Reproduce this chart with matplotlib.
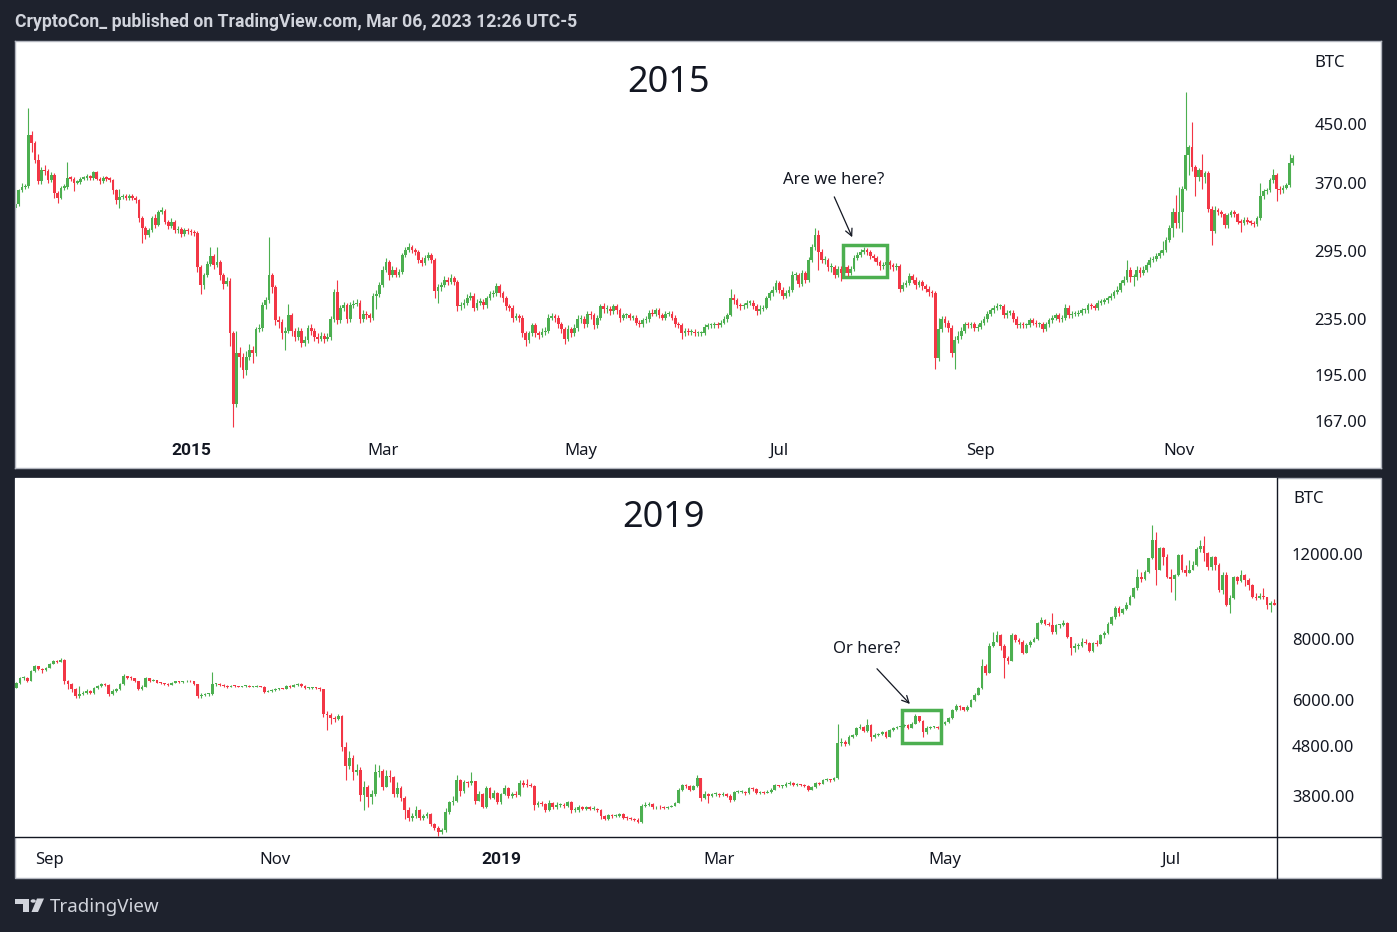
import numpy as np
import pandas as pd
import matplotlib
matplotlib.use("Agg")
import matplotlib.pyplot as plt
import matplotlib.dates as mdates
from matplotlib.patches import Rectangle, Polygon, Circle
from matplotlib.lines import Line2D
from matplotlib.ticker import NullLocator

W, H = 1397, 932
BG = "#1e222d"
UP = "#4caf50"
DOWN = "#f23645"
INK = "#131722"
HEAD = "#d1d4dc"
BOLD_FONT = ["Roboto", "Lato", "DejaVu Sans"]

plt.rcParams['font.family'] = ['Noto Sans', 'DejaVu Sans']

# ---- 2015 daily candles (BTC/USD), first candle 2014-11-08 ----
start_2015 = "2014-11-08"
first_open_2015 = 340
close_2015 = [
    345, 361, 365, 366, 434, 422, 399, 372, 386, 385,
    373, 380, 358, 352, 364, 365, 376, 375, 370, 371,
    375, 376, 378, 376, 383, 375, 372, 376, 375, 374,
    361, 349, 353, 354, 352, 353, 352, 349, 329, 318,
    311, 316, 329, 321, 336, 337, 325, 320, 325, 316,
    317, 312, 316, 315, 314, 313, 279, 263, 272, 282,
    290, 281, 284, 272, 264, 267, 224, 177, 210, 207,
    198, 207, 212, 210, 227, 228, 246, 250, 272, 261,
    234, 233, 224, 226, 238, 226, 221, 226, 217, 219,
    228, 226, 221, 220, 222, 220, 221, 235, 257, 234,
    244, 246, 235, 246, 247, 248, 235, 239, 238, 236,
    254, 255, 263, 277, 284, 272, 277, 272, 275, 291,
    296, 299, 296, 294, 286, 283, 288, 291, 286, 258,
    261, 263, 268, 266, 269, 266, 245, 246, 248, 252,
    254, 244, 248, 249, 246, 252, 255, 256, 262, 256,
    252, 245, 244, 236, 237, 236, 224, 219, 224, 230,
    224, 223, 225, 226, 236, 237, 236, 231, 227, 220,
    227, 224, 228, 235, 235, 231, 239, 238, 230, 236,
    245, 243, 243, 241, 245, 242, 236, 238, 238, 236,
    236, 232, 231, 234, 235, 240, 239, 242, 238, 236,
    239, 239, 236, 231, 230, 224, 226, 225, 225, 224,
    224, 224, 229, 230, 230, 231, 230, 232, 235, 238,
    252, 250, 246, 245, 246, 248, 248, 245, 241, 243,
    244, 252, 256, 259, 265, 259, 254, 256, 259, 272,
    272, 264, 274, 268, 286, 299, 311, 294, 286, 286,
    279, 279, 272, 278, 274, 279, 274, 278, 288, 291,
    294, 296, 294, 290, 288, 284, 280, 281, 284, 281,
    279, 280, 260, 263, 265, 271, 268, 263, 266, 262,
    260, 257, 256, 206, 227, 235, 232, 228, 210, 219,
    222, 226, 231, 230, 231, 228, 229, 232, 235, 239,
    242, 244, 245, 245, 238, 240, 240, 235, 230, 231,
    230, 230, 234, 232, 231, 231, 227, 231, 234, 236,
    238, 235, 236, 244, 238, 239, 239, 240, 242, 242,
    246, 245, 244, 248, 249, 250, 252, 254, 257, 259,
    265, 268, 277, 270, 270, 277, 274, 277, 281, 286,
    287, 290, 293, 296, 306, 318, 336, 324, 336, 363,
    406, 417, 390, 377, 386, 377, 382, 339, 315, 338,
    336, 333, 321, 332, 336, 333, 325, 324, 327, 325,
    324, 322, 329, 354, 360, 361, 373, 380, 363, 361,
    364, 367, 395, 402,
]
high_2015 = [
    348, 363, 370, 368, 475, 440, 425, 407, 390, 392,
    388, 383, 382, 360, 366, 368, 397, 379, 377, 374,
    377, 379, 381, 380, 385, 385, 377, 378, 378, 377,
    375, 363, 362, 357, 357, 356, 356, 354, 351, 331,
    320, 318, 331, 333, 338, 341, 339, 327, 329, 327,
    320, 319, 318, 318, 317, 316, 315, 281, 274, 285,
    299, 292, 299, 286, 274, 270, 269, 226, 226, 214,
    210, 211, 216, 215, 229, 231, 249, 253, 309, 274,
    263, 237, 235, 229, 247, 240, 228, 229, 228, 222,
    230, 231, 228, 224, 225, 224, 224, 237, 260, 268,
    246, 249, 248, 249, 250, 251, 250, 242, 241, 240,
    256, 259, 266, 280, 288, 286, 280, 279, 278, 293,
    299, 303, 301, 298, 296, 289, 291, 294, 293, 288,
    264, 266, 271, 270, 273, 271, 268, 249, 251, 255,
    257, 256, 251, 252, 251, 254, 258, 259, 265, 264,
    258, 254, 247, 246, 240, 239, 238, 226, 226, 232,
    232, 226, 228, 229, 239, 240, 239, 238, 233, 229,
    230, 229, 231, 238, 238, 237, 241, 241, 240, 238,
    247, 248, 246, 245, 247, 247, 244, 240, 240, 240,
    238, 238, 234, 236, 237, 242, 243, 244, 244, 240,
    241, 241, 241, 238, 233, 232, 228, 228, 227, 227,
    226, 226, 231, 232, 232, 233, 233, 234, 237, 240,
    260, 255, 252, 248, 248, 250, 250, 250, 247, 246,
    246, 254, 258, 262, 268, 267, 261, 259, 262, 276,
    275, 274, 277, 276, 289, 302, 318, 316, 297, 290,
    288, 283, 281, 280, 280, 281, 281, 280, 291, 294,
    297, 299, 298, 296, 292, 290, 286, 284, 286, 286,
    283, 283, 282, 266, 268, 274, 273, 270, 268, 268,
    264, 262, 259, 258, 236, 237, 237, 234, 230, 222,
    226, 229, 233, 233, 233, 233, 231, 234, 237, 241,
    244, 246, 248, 247, 247, 242, 242, 242, 237, 233,
    233, 232, 236, 236, 234, 233, 233, 233, 236, 238,
    240, 240, 238, 247, 246, 241, 241, 242, 244, 244,
    248, 248, 247, 250, 251, 252, 254, 256, 259, 262,
    268, 271, 286, 279, 273, 280, 279, 280, 284, 289,
    290, 293, 296, 305, 309, 321, 340, 355, 365, 366,
    500, 420, 453, 393, 389, 407, 385, 385, 342, 342,
    340, 338, 335, 334, 338, 338, 335, 328, 330, 330,
    327, 326, 331, 370, 363, 364, 376, 388, 382, 366,
    367, 370, 407, 406,
]
low_2015 = [
    338, 343, 359, 362, 364, 410, 395, 368, 369, 380,
    370, 371, 352, 346, 350, 361, 363, 372, 360, 368,
    369, 373, 374, 373, 374, 373, 368, 370, 372, 371,
    357, 345, 340, 350, 349, 349, 349, 346, 325, 303,
    307, 309, 314, 318, 320, 333, 322, 317, 318, 313,
    313, 309, 310, 312, 311, 310, 275, 255, 260, 270,
    280, 278, 279, 268, 260, 262, 215, 164, 175, 200,
    193, 195, 205, 203, 208, 225, 226, 243, 248, 256,
    230, 228, 220, 212, 224, 222, 218, 219, 214, 215,
    217, 223, 218, 217, 218, 217, 218, 219, 233, 231,
    232, 241, 232, 233, 244, 245, 232, 233, 235, 233,
    234, 243, 253, 261, 275, 268, 270, 270, 270, 273,
    289, 294, 293, 291, 283, 280, 281, 286, 283, 252,
    248, 258, 261, 263, 264, 263, 241, 242, 244, 246,
    250, 241, 242, 246, 243, 244, 250, 253, 254, 253,
    249, 242, 241, 233, 234, 233, 221, 215, 217, 222,
    221, 220, 221, 223, 224, 234, 233, 228, 224, 216,
    218, 221, 222, 226, 232, 228, 229, 235, 227, 228,
    234, 240, 240, 238, 239, 239, 233, 234, 236, 234,
    234, 230, 229, 229, 232, 233, 237, 237, 236, 234,
    234, 237, 234, 229, 228, 220, 222, 223, 223, 222,
    222, 222, 223, 227, 228, 228, 228, 229, 231, 233,
    237, 247, 244, 242, 243, 244, 246, 243, 238, 239,
    241, 243, 250, 254, 257, 256, 251, 252, 254, 257,
    268, 261, 262, 265, 266, 284, 296, 277, 283, 282,
    276, 275, 269, 270, 267, 272, 271, 272, 276, 286,
    289, 292, 291, 287, 285, 281, 277, 278, 279, 278,
    276, 277, 257, 258, 261, 263, 265, 260, 261, 259,
    257, 254, 253, 199, 204, 225, 229, 225, 207, 199,
    217, 220, 224, 228, 228, 226, 226, 227, 230, 233,
    237, 240, 242, 243, 236, 236, 238, 233, 228, 228,
    228, 228, 229, 230, 229, 229, 225, 226, 229, 232,
    234, 233, 233, 234, 236, 236, 237, 237, 238, 240,
    240, 243, 242, 242, 246, 247, 248, 250, 252, 255,
    257, 263, 266, 266, 262, 268, 270, 272, 275, 279,
    284, 285, 288, 291, 294, 304, 309, 318, 318, 314,
    361, 380, 385, 354, 372, 363, 370, 336, 301, 313,
    332, 330, 318, 318, 330, 330, 322, 314, 321, 322,
    321, 319, 320, 327, 351, 357, 359, 370, 348, 357,
    358, 362, 365, 393,
]

# ---- 2019 daily candles (BTC/USD), first candle 2018-08-23 ----
start_2019 = "2018-08-23"
first_open_2019 = 6350
close_2019 = [
    6490, 6640, 6650, 6560, 6870, 7030, 6950, 6900, 6980, 7120,
    7200, 7180, 7260, 6560, 6450, 6300, 6090, 6150, 6180, 6240,
    6190, 6350, 6390, 6450, 6430, 6150, 6260, 6300, 6450, 6700,
    6660, 6640, 6550, 6300, 6380, 6640, 6560, 6580, 6500, 6480,
    6450, 6440, 6500, 6540, 6520, 6540, 6560, 6540, 6450, 6090,
    6130, 6150, 6150, 6450, 6460, 6440, 6390, 6380, 6400, 6390,
    6380, 6390, 6400, 6380, 6380, 6390, 6380, 6230, 6240, 6270,
    6300, 6330, 6320, 6400, 6380, 6420, 6470, 6400, 6330, 6350,
    6350, 6340, 6300, 5610, 5580, 5500, 5480, 5560, 4790, 4370,
    4540, 4260, 4290, 3810, 3960, 3780, 3820, 4260, 4280, 3960,
    4170, 4150, 3820, 3930, 3760, 3540, 3420, 3440, 3540, 3420,
    3450, 3480, 3320, 3260, 3190, 3220, 3520, 3680, 3700, 4090,
    3880, 4050, 4030, 4070, 3710, 3830, 3600, 3930, 3760, 3850,
    3680, 3830, 3940, 3800, 3830, 3810, 4030, 4000, 3990, 3980,
    3640, 3660, 3650, 3540, 3670, 3590, 3630, 3640, 3610, 3680,
    3540, 3550, 3590, 3570, 3600, 3570, 3570, 3540, 3440, 3400,
    3460, 3450, 3450, 3480, 3420, 3410, 3400, 3390, 3350, 3620,
    3640, 3650, 3590, 3600, 3590, 3580, 3600, 3620, 3670, 3900,
    3990, 3980, 3910, 3970, 4130, 3750, 3830, 3800, 3820, 3820,
    3810, 3830, 3800, 3720, 3860, 3870, 3870, 3840, 3930, 3920,
    3850, 3860, 3850, 3870, 3910, 3990, 3970, 3970, 4020, 4040,
    3990, 4000, 3990, 3980, 3910, 3950, 4040, 4020, 4100, 4100,
    4090, 4130, 4870, 4900, 4850, 5030, 5060, 5240, 5270, 5160,
    5320, 5030, 5070, 5090, 5140, 5030, 5190, 5240, 5270, 5290,
    5320, 5240, 5350, 5540, 5420, 5150, 5240, 5270, 5270, 5250,
    5350, 5380, 5490, 5710, 5820, 5780, 5710, 5800, 5980, 6140,
    6330, 7040, 6820, 7740, 7900, 8170, 7740, 7300, 7210, 8150,
    7980, 7900, 7500, 7790, 7900, 8010, 8650, 8780, 8600, 8550,
    8280, 8550, 8550, 8650, 8080, 7660, 7750, 7760, 7900, 7850,
    7560, 7860, 7830, 8150, 8230, 8600, 8900, 9300, 9050, 9240,
    9410, 9770, 10200, 10770, 10650, 11000, 11780, 12840, 11130, 12350,
    11830, 10770, 10630, 10840, 11950, 11130, 10980, 11130, 11400, 12300,
    12470, 12060, 11280, 11830, 11400, 10110, 10860, 9410, 9720, 10770,
    10570, 10860, 10610, 10360, 9780, 9740, 9820, 9780, 9410, 9500,
    9420,
]
high_2019 = [
    6530, 6680, 6720, 6680, 6900, 7080, 7050, 6980, 7010, 7150,
    7250, 7240, 7300, 7280, 6600, 6480, 6350, 6400, 6250, 6300,
    6280, 6380, 6420, 6490, 6480, 6450, 6300, 6350, 6480, 6780,
    6720, 6700, 6660, 6570, 6420, 6680, 6650, 6620, 6600, 6530,
    6500, 6480, 6530, 6570, 6560, 6570, 6600, 6580, 6560, 6460,
    6180, 6190, 6190, 6850, 6500, 6480, 6460, 6420, 6420, 6420,
    6410, 6410, 6430, 6420, 6400, 6420, 6410, 6400, 6270, 6300,
    6330, 6350, 6350, 6440, 6420, 6450, 6500, 6480, 6420, 6380,
    6370, 6380, 6360, 6320, 5680, 5620, 5540, 5600, 5580, 4900,
    4700, 4600, 4420, 4350, 4080, 4000, 3900, 4410, 4400, 4310,
    4300, 4300, 4180, 4050, 3980, 3800, 3600, 3500, 3620, 3570,
    3480, 3520, 3490, 3340, 3290, 3260, 3580, 3700, 3800, 4190,
    4120, 4100, 4080, 4250, 4080, 3890, 3840, 3970, 3950, 3900,
    3870, 3850, 3990, 3960, 3870, 3880, 4090, 4100, 4110, 4030,
    4000, 3700, 3700, 3670, 3720, 3690, 3680, 3670, 3660, 3710,
    3700, 3590, 3640, 3620, 3620, 3620, 3610, 3580, 3560, 3460,
    3480, 3480, 3480, 3500, 3490, 3440, 3430, 3420, 3410, 3650,
    3680, 3680, 3660, 3620, 3630, 3610, 3620, 3640, 3690, 3930,
    4010, 4010, 3990, 4000, 4190, 4140, 3880, 3850, 3850, 3860,
    3850, 3860, 3850, 3820, 3890, 3910, 3910, 3890, 3960, 3950,
    3930, 3890, 3890, 3900, 3930, 4010, 4000, 4000, 4050, 4070,
    4060, 4030, 4020, 4010, 3990, 3970, 4060, 4060, 4120, 4130,
    4120, 4160, 5330, 5000, 4950, 5060, 5100, 5270, 5330, 5300,
    5470, 5330, 5110, 5120, 5170, 5160, 5220, 5270, 5300, 5320,
    5350, 5340, 5380, 5600, 5560, 5440, 5280, 5300, 5300, 5300,
    5380, 5420, 5530, 5750, 5880, 5860, 5800, 5840, 6020, 6180,
    6380, 7290, 7100, 7850, 8280, 8300, 8200, 7800, 7400, 8250,
    8200, 8050, 7950, 7850, 7980, 8100, 8700, 8900, 8820, 8700,
    9080, 8600, 8600, 8750, 8700, 8100, 7850, 7850, 8050, 8000,
    7900, 7900, 7950, 8200, 8300, 8700, 8950, 9350, 9350, 9300,
    9550, 9850, 10250, 11200, 11000, 11100, 11800, 13780, 13300, 12400,
    12400, 12000, 11200, 10900, 12000, 12000, 11400, 11650, 11600, 12400,
    12800, 13100, 12100, 11900, 11900, 11500, 11000, 11000, 9850, 10800,
    10830, 11100, 10900, 10700, 10380, 9950, 9950, 10200, 9800, 9600,
    9700,
]
low_2019 = [
    6330, 6470, 6600, 6520, 6550, 6850, 6900, 6820, 6880, 6960,
    7100, 7130, 7160, 6450, 6300, 6230, 6050, 6060, 6120, 6150,
    6160, 6170, 6320, 6360, 6400, 6110, 6120, 6230, 6280, 6430,
    6620, 6600, 6520, 6270, 6280, 6360, 6520, 6540, 6480, 6450,
    6420, 6410, 6420, 6480, 6500, 6500, 6520, 6510, 6420, 6050,
    6060, 6100, 6110, 6130, 6400, 6410, 6360, 6350, 6360, 6370,
    6360, 6360, 6370, 6360, 6360, 6370, 6360, 6200, 6210, 6220,
    6250, 6280, 6300, 6300, 6350, 6360, 6400, 6380, 6300, 6310,
    6320, 6310, 6260, 5530, 5200, 5350, 5400, 5450, 4700, 4090,
    4320, 4100, 4200, 3700, 3540, 3600, 3650, 3800, 4150, 3900,
    3950, 4050, 3780, 3780, 3700, 3400, 3370, 3360, 3420, 3380,
    3380, 3420, 3280, 3220, 3130, 3170, 3200, 3480, 3640, 3680,
    3800, 3850, 3950, 4000, 3650, 3700, 3580, 3580, 3730, 3740,
    3650, 3650, 3810, 3760, 3750, 3780, 3800, 3960, 3960, 3950,
    3550, 3590, 3620, 3520, 3530, 3560, 3570, 3600, 3580, 3600,
    3490, 3510, 3520, 3540, 3550, 3550, 3540, 3510, 3400, 3380,
    3390, 3420, 3430, 3430, 3400, 3390, 3380, 3360, 3340, 3340,
    3600, 3610, 3570, 3570, 3570, 3560, 3570, 3590, 3610, 3660,
    3880, 3940, 3890, 3900, 3960, 3700, 3730, 3670, 3780, 3790,
    3780, 3790, 3770, 3690, 3710, 3840, 3840, 3810, 3830, 3880,
    3820, 3830, 3820, 3840, 3850, 3900, 3950, 3940, 3950, 4000,
    3970, 3970, 3970, 3960, 3880, 3900, 3940, 3990, 4010, 4070,
    4060, 4080, 4120, 4800, 4800, 4830, 5000, 5040, 5210, 5140,
    5150, 4920, 5000, 5050, 5060, 5000, 5020, 5170, 5220, 5250,
    5270, 5220, 5230, 5330, 5380, 5030, 5100, 5220, 5240, 5220,
    5230, 5320, 5360, 5470, 5690, 5720, 5680, 5690, 5780, 5960,
    6120, 6310, 6730, 6800, 7700, 7880, 7600, 6640, 7100, 7200,
    7880, 7800, 7450, 7480, 7700, 7880, 7980, 8600, 8550, 8500,
    8200, 8200, 8450, 8520, 8050, 7420, 7520, 7650, 7720, 7800,
    7520, 7530, 7750, 7800, 8050, 8200, 8550, 8800, 8950, 9000,
    9200, 9400, 9750, 10100, 10500, 10600, 10950, 11700, 10360, 11100,
    11400, 10700, 10000, 9640, 10800, 11000, 10800, 10950, 11100, 11350,
    12100, 11600, 11100, 11100, 11100, 10000, 9900, 9350, 9060, 9700,
    10400, 10500, 10300, 10100, 9750, 9650, 9700, 9700, 9250, 9100,
    9400,
]

# axis labels
price_ticks_2015 = [450, 370, 295, 235, 195, 167]
price_ticks_2019 = [12000, 8000, 6000, 4800, 3800]
month_dates_2015 = ["2015-01-01", "2015-03-01", "2015-05-01", "2015-07-01", "2015-09-01", "2015-11-01"]
month_labels_2015 = ["2015", "Mar", "May", "Jul", "Sep", "Nov"]
month_dates_2019 = ["2018-09-01", "2018-11-01", "2019-01-01", "2019-03-01", "2019-05-01", "2019-07-01"]
month_labels_2019 = ["Sep", "Nov", "2019", "Mar", "May", "Jul"]

# highlighted zones: (start, end, low, high)
zone_2015 = ("2015-07-20 16:00", "2015-08-03 00:00", 270.5, 301)
zone_2019 = ("2019-04-19 07:00", "2019-04-29 22:00", 4870, 5700)


def fx(x):
    return x / W


def fy(y):
    return 1 - y / H


def dnum(s):
    return mdates.date2num(pd.Timestamp(s))


def draw_candles(ax, dates, first_open, close, high, low, width):
    close = np.asarray(close, float)
    opens = np.concatenate([[first_open], close[:-1]])
    high = np.maximum(np.asarray(high, float), np.maximum(opens, close))
    low = np.minimum(np.asarray(low, float), np.minimum(opens, close))
    colors = np.where(close >= opens, UP, DOWN)
    top = np.maximum(opens, close)
    bot = np.minimum(opens, close)
    top = np.maximum(top, bot * 1.0045)
    ax.vlines(dates, low, high, colors=colors, linewidth=0.8)
    ax.bar(dates, top - bot, bottom=bot, width=width, color=colors, linewidth=0)


def clean(ax):
    for axis in (ax.xaxis, ax.yaxis):
        axis.set_major_locator(NullLocator())
        axis.set_minor_locator(NullLocator())


def time_label(ax, d, lab, ypos):
    bold = lab.isdigit()
    ax.text(dnum(d), ypos, lab, transform=ax.get_xaxis_transform(), ha="center",
            va="center_baseline", fontsize=12.5 if bold else 12, color=INK,
            family=BOLD_FONT if bold else None, fontweight="bold" if bold else "normal",
            clip_on=False)


fig = plt.figure(figsize=(W / 100, H / 100), dpi=100, facecolor=BG)

fig.text(fx(15), fy(27), "CryptoCon_ published on TradingView.com, Mar 06, 2023 12:26 UTC-5",
         color=HEAD, fontsize=12.7, family=BOLD_FONT, fontweight="bold", ha="left", va="baseline")

# ---------- top panel (2015) ----------
ax1 = fig.add_axes([fx(15), fy(468), (1381 - 15) / W, (468 - 41) / H])
ax1.set_facecolor("white")
ax1.set_yscale("log")
d1 = mdates.date2num(pd.date_range(start_2015, periods=len(close_2015), freq="D"))
ax1.set_xlim(d1[0] - 0.15, d1[0] + 420.15)
ax1.set_ylim(143.0, 593.5)
clean(ax1)
for sp in ax1.spines.values():
    sp.set_color("#b2b5be")
    sp.set_linewidth(1)
draw_candles(ax1, d1, first_open_2015, close_2015, high_2015, low_2015, 0.8)

for p in price_ticks_2015:
    ax1.text(0.9897, p, f"{p:.2f}", transform=ax1.get_yaxis_transform(),
             ha="right", va="center_baseline", fontsize=12, color=INK)
ax1.text(0.951, 0.953, "BTC", transform=ax1.transAxes, ha="left", va="center_baseline", fontsize=12, color=INK)
for d, lab in zip(month_dates_2015, month_labels_2015):
    time_label(ax1, d, lab, 0.0445)
ax1.text(0.4784, 0.8806, "2015", transform=ax1.transAxes, ha="center", va="baseline", fontsize=26, color=INK)

z0, z1, zl, zh = zone_2015
ax1.add_patch(Rectangle((dnum(z0), zl), dnum(z1) - dnum(z0), zh - zl, fill=False,
                        edgecolor=UP, linewidth=2.5))
ax1.annotate("", xy=(dnum("2015-07-23 19:00"), 306), xytext=(dnum("2015-07-17 14:00"), 356),
             arrowprops=dict(arrowstyle="->,head_length=0.5,head_width=0.25", color=INK, lw=0.9))
ax1.text(dnum("2015-07-17 14:00"), 376, "Are we here?", ha="center", va="center_baseline",
         fontsize=12, color=INK)

# ---------- bottom panel (2019) ----------
fig.patches.append(Rectangle((fx(15), fy(878)), (1381 - 15) / W, (878 - 478) / H,
                             transform=fig.transFigure, facecolor="white",
                             edgecolor="#b2b5be", linewidth=1, zorder=-1))
ax2 = fig.add_axes([fx(15), fy(837), (1277 - 15) / W, (837 - 478) / H])
ax2.set_facecolor("white")
ax2.set_yscale("log")
d2 = mdates.date2num(pd.date_range(start_2019, periods=len(close_2019), freq="D"))
ax2.set_xlim(d2[0] - 0.35, d2[0] + 340.7)
ax2.set_ylim(3119, 17233)
clean(ax2)
for sp in ax2.spines.values():
    sp.set_visible(False)
draw_candles(ax2, d2, first_open_2019, close_2019, high_2019, low_2019, 0.74)

fig.add_artist(Line2D([fx(15), fx(1381)], [fy(837), fy(837)], color=INK, linewidth=1))
fig.add_artist(Line2D([fx(1277), fx(1277)], [fy(478), fy(878)], color=INK, linewidth=1))

for p in price_ticks_2019:
    ax2.text(1.0119, p, f"{p:.2f}", transform=ax2.get_yaxis_transform(),
             ha="left", va="center_baseline", fontsize=12, color=INK, clip_on=False)
ax2.text(1.0127, 0.947, "BTC", transform=ax2.transAxes, ha="left", va="center_baseline",
         fontsize=12, color=INK)
for d, lab in zip(month_dates_2019, month_labels_2019):
    time_label(ax2, d, lab, -0.0585)
ax2.text(0.5135, 0.8635, "2019", transform=ax2.transAxes, ha="center", va="baseline", fontsize=26, color=INK)

z0, z1, zl, zh = zone_2019
ax2.add_patch(Rectangle((dnum(z0), zl), dnum(z1) - dnum(z0), zh - zl, fill=False,
                        edgecolor=UP, linewidth=2.5))
ax2.annotate("", xy=(dnum("2019-04-22 00:00"), 5819), xytext=(dnum("2019-04-12 02:00"), 7016),
             arrowprops=dict(arrowstyle="->,head_length=0.5,head_width=0.25", color=INK, lw=0.9))
ax2.text(dnum("2019-04-09 19:00"), 7706, "Or here?", ha="center", va="center_baseline",
         fontsize=12, color=INK)

# ---------- footer logo ----------
logo = [
    Polygon([(fx(15), fy(898.5)), (fx(29), fy(898.5)), (fx(29), fy(912)), (fx(22.5), fy(912)),
             (fx(22.5), fy(903.5)), (fx(15), fy(903.5))], closed=True),
    Polygon([(fx(37), fy(898.5)), (fx(44), fy(898.5)), (fx(38), fy(912)), (fx(31.5), fy(912))], closed=True),
]
for pg in logo:
    pg.set_transform(fig.transFigure)
    pg.set_facecolor(HEAD)
    pg.set_edgecolor("none")
    fig.patches.append(pg)
dot = Circle((fx(33.2), fy(901)), 2.6 / W, transform=fig.transFigure, facecolor=HEAD, edgecolor="none")
fig.patches.append(dot)
fig.text(fx(50), fy(912), "TradingView", color=HEAD, fontsize=13.5, ha="left", va="baseline")

fig.savefig("out.png", dpi=100, facecolor=BG)
